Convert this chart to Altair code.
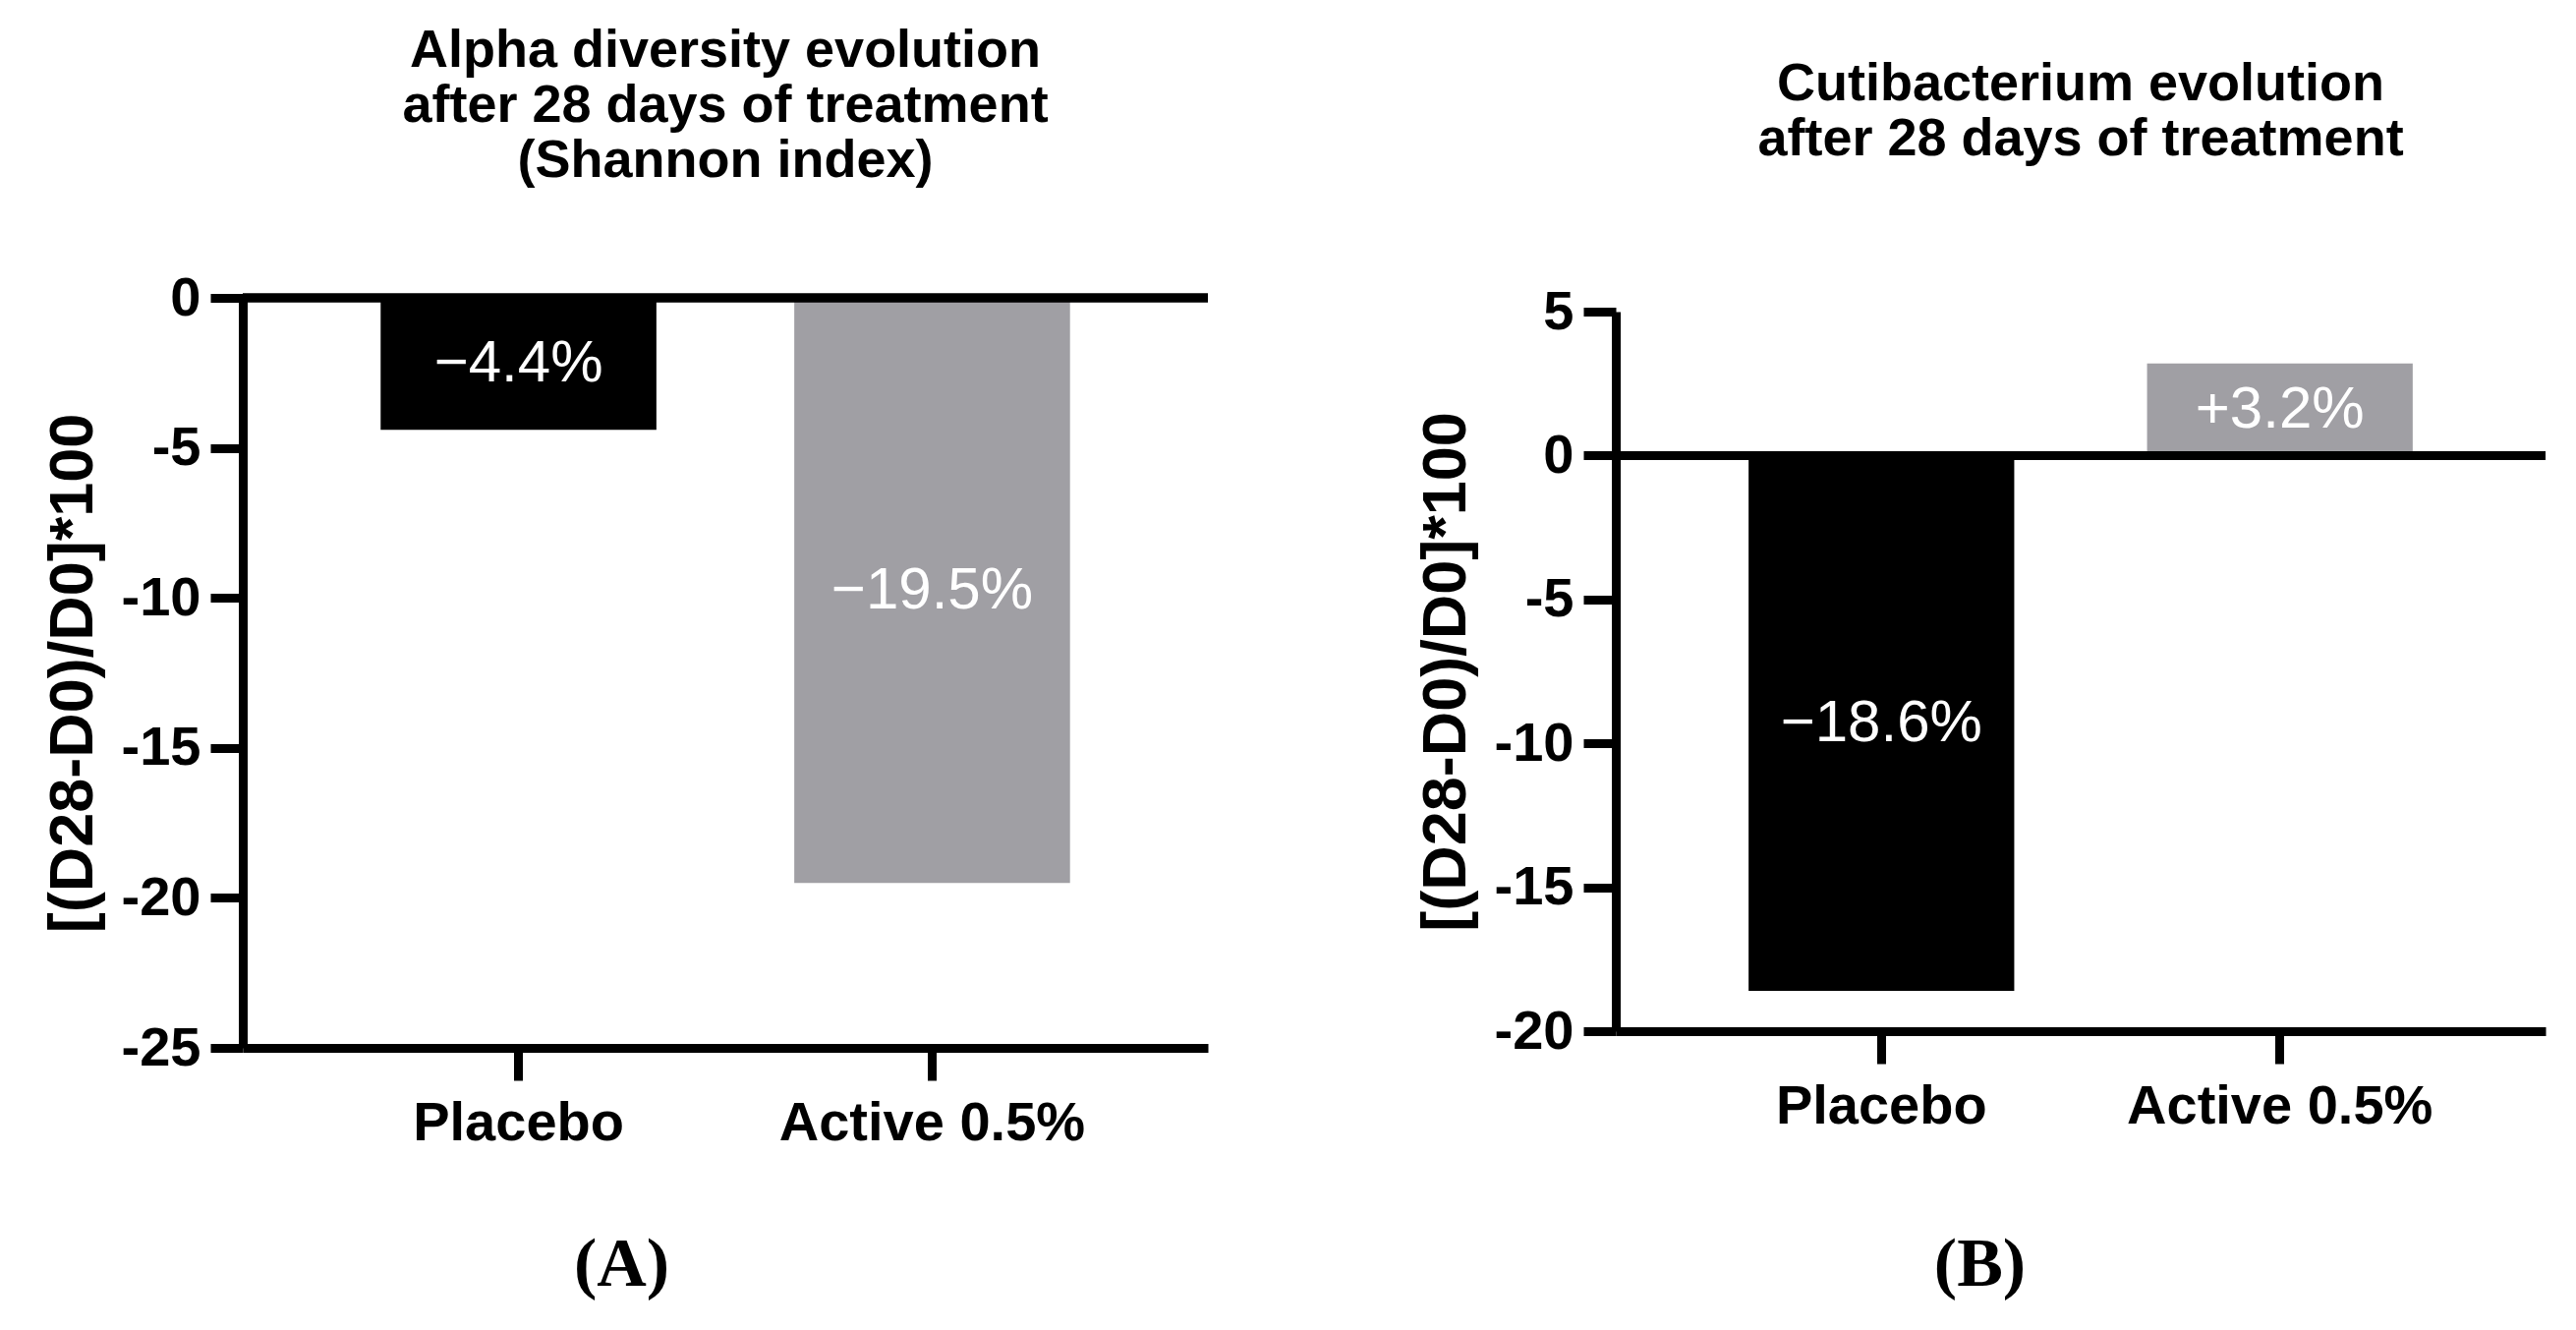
import altair as alt
import pandas as pd

# ---- data ----
groups = ["Placebo", "Active 0.5%"]
bar_colors = ["#000000", "#a09fa4"]

alpha_values = [-4.4, -19.5]
alpha_labels = ["−4.4%", "−19.5%"]
alpha_ticks = [0, -5, -10, -15, -20, -25]

cuti_values = [-18.6, 3.2]
cuti_labels = ["−18.6%", "+3.2%"]
cuti_ticks = [5, 0, -5, -10, -15, -20]

alpha_title = ["Alpha diversity evolution", "after 28 days of treatment", "(Shannon index)"]
cuti_title = ["Cutibacterium evolution", "after 28 days of treatment"]
y_title = "[(D28-D0)/D0]*100"

SANS = "Liberation Sans"
SERIF = "Liberation Serif"
LW = 9


def panel(values, labels, ticks, domain, yrange, width, height, title, title_offset,
          panel_label, xtitle_pad, xtitle_x):
    df = pd.DataFrame({"group": groups, "value": values, "label": labels, "color": bar_colors})
    base = alt.Chart(df)

    x = alt.X(
        "group:N",
        sort=groups,
        scale=alt.Scale(paddingInner=1 / 3, paddingOuter=1 / 3),
        axis=alt.Axis(
            title=panel_label,
            titleFont=SERIF,
            titleFontSize=70,
            titleFontWeight="bold",
            titleColor="black",
            titlePadding=xtitle_pad,
            titleX=xtitle_x,
            titleAlign="center",
            labelAngle=0,
            labelFont=SANS,
            labelFontSize=56,
            labelFontWeight="bold",
            labelColor="black",
            labelPadding=16,
            labelLimit=800,
            tickSize=33,
            tickWidth=LW,
            tickColor="black",
            domainWidth=LW,
            domainColor="black",
            grid=False,
        ),
    )
    y = alt.Y(
        "value:Q",
        scale=alt.Scale(domain=domain, range=yrange, nice=False, zero=False),
        axis=alt.Axis(
            values=ticks,
            labelExpr="'' + datum.value",
            title=y_title,
            titleFont=SANS,
            titleFontSize=63,
            titleFontWeight="bold",
            titleColor="black",
            titlePadding=17,
            labelFont=SANS,
            labelFontSize=56,
            labelFontWeight="bold",
            labelColor="black",
            labelPadding=10,
            labelFlush=False,
            labelOverlap=False,
            grid=False,
            tickSize=33,
            tickWidth=LW,
            tickColor="black",
            domainWidth=LW,
            domainColor="black",
        ),
    )

    bars = base.mark_bar(strokeWidth=0).encode(
        x=x,
        y=y,
        color=alt.Color("color:N", scale=None),
    )
    text = base.transform_calculate(mid="datum.value / 2").mark_text(
        font=SANS, fontSize=60, color="white", baseline="middle", align="center"
    ).encode(
        x=alt.X("group:N", sort=groups),
        y=alt.Y("mid:Q"),
        text="label:N",
    )
    zero = base.mark_rule(color="black", strokeWidth=LW).encode(y=alt.datum(0))

    return alt.layer(bars, text, zero).properties(
        width=width,
        height=height,
        view=alt.ViewBackground(stroke="transparent", strokeWidth=0, fill="transparent"),
        title=alt.TitleParams(
            text=title,
            font=SANS,
            fontSize=54,
            fontWeight="bold",
            color="black",
            lineHeight=56,
            anchor="middle",
            frame="group",
            offset=title_offset,
        ),
    )


left = panel(alpha_values, alpha_labels, alpha_ticks, [-25, 0], [763, 0], 982, 763,
             alpha_title, 84, "(A)", 82, 385)
right = panel(cuti_values, cuti_labels, cuti_ticks, [-20, 5], [746, 14], 946, 746,
              cuti_title, 120, "(B)", 99, 370)

chart = (
    alt.hconcat(left, right, spacing=415, bounds="flush")
    .properties(padding={"left": 35, "top": 17, "right": 5, "bottom": 5}, background="white")
    .configure_view(stroke="transparent", strokeWidth=0)
    .configure_axis(grid=False)
    .configure(font=SANS)
)

chart.save("out.html", embed_options={"renderer": "svg", "actions": False})
